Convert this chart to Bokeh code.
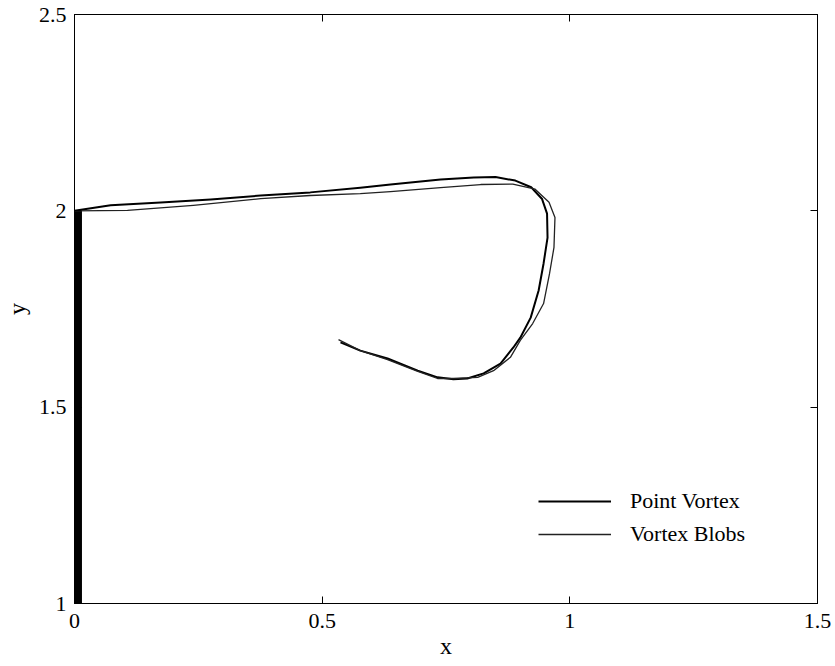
from bokeh.plotting import figure
from bokeh.models import Range1d, LinearAxis, FixedTicker, Legend, LegendItem
from bokeh.embed import file_html
from bokeh.resources import INLINE

# Vortex path computed with the point-vortex model
pv_x = [0.0, 0.073, 0.174, 0.275, 0.376, 0.476, 0.577, 0.638, 0.739, 0.806, 0.850,
        0.890, 0.922, 0.944, 0.954, 0.955, 0.947, 0.937, 0.921, 0.900, 0.886, 0.860,
        0.826, 0.793, 0.765, 0.733, 0.693, 0.632, 0.577, 0.537]
pv_y = [2.0, 2.014, 2.021, 2.029, 2.039, 2.047, 2.059, 2.067, 2.080, 2.085, 2.086,
        2.077, 2.060, 2.030, 1.993, 1.932, 1.866, 1.797, 1.728, 1.677, 1.652, 1.611,
        1.586, 1.573, 1.571, 1.576, 1.593, 1.624, 1.644, 1.665]

# Vortex path computed with the vortex-blob model
vb_x = [0.0, 0.107, 0.240, 0.376, 0.476, 0.577, 0.638, 0.739, 0.820, 0.885, 0.930,
        0.958, 0.970, 0.968, 0.959, 0.947, 0.925, 0.900, 0.880, 0.846, 0.814, 0.765,
        0.733, 0.693, 0.632, 0.577, 0.541, 0.533]
vb_y = [2.0, 2.001, 2.014, 2.031, 2.039, 2.044, 2.049, 2.059, 2.067, 2.068, 2.055,
        2.022, 1.983, 1.907, 1.840, 1.764, 1.713, 1.670, 1.627, 1.593, 1.576, 1.573,
        1.573, 1.591, 1.621, 1.644, 1.667, 1.672]

# Wall segment (dense row of image vortices along x = 0)
wall_x = [0.007, 0.007]
wall_y = [1.0, 2.0]

x_ticks = [0, 0.5, 1, 1.5]
y_ticks = [1, 1.5, 2, 2.5]
x_tick_labels = ["0", "0.5", "1", "1.5"]
y_tick_labels = ["1", "1.5", "2", "2.5"]

FONT = "Liberation Serif"

p = figure(width=835, height=666,
           x_range=Range1d(0, 1.5), y_range=Range1d(1, 2.5),
           output_backend="svg", toolbar_location=None,
           min_border_left=74, min_border_right=18,
           min_border_top=14, min_border_bottom=63)

p.grid.visible = False
p.outline_line_color = "black"
p.outline_line_width = 1
p.background_fill_color = "white"
p.border_fill_color = "white"

for ax, ticks, labels in ((p.xaxis[0], x_ticks, x_tick_labels),
                          (p.yaxis[0], y_ticks, y_tick_labels)):
    ax.ticker = FixedTicker(ticks=ticks)
    ax.major_label_overrides = dict(zip(ticks, labels))
    ax.minor_tick_line_color = None
    ax.major_tick_in = 7
    ax.major_tick_out = 0
    ax.axis_line_color = "black"
    ax.major_label_text_font = FONT
    ax.major_label_text_font_size = "22px"
    ax.major_label_text_color = "black"
    ax.axis_label_text_font = FONT
    ax.axis_label_text_font_size = "24px"
    ax.axis_label_text_font_style = "normal"
    ax.axis_label_text_color = "black"

p.xaxis[0].axis_label = "x"
p.yaxis[0].axis_label = "y"
p.xaxis[0].major_label_standoff = 10
p.yaxis[0].major_label_standoff = 8
p.xaxis[0].axis_label_standoff = 2
p.yaxis[0].axis_label_standoff = 6

# mirrored tick marks on the top and right edges (no labels)
for loc, ticks in (("above", x_ticks), ("right", y_ticks)):
    mirror = LinearAxis(ticker=FixedTicker(ticks=ticks))
    mirror.minor_tick_line_color = None
    mirror.major_tick_in = 7
    mirror.major_tick_out = 0
    mirror.major_label_overrides = {t: "" for t in ticks}
    mirror.axis_line_color = "black"
    p.add_layout(mirror, loc)

p.line(wall_x, wall_y, line_color="black", line_width=8)

r_pv = p.line(pv_x, pv_y, line_color="black", line_width=2, line_join="round")
r_vb = p.line(vb_x, vb_y, line_color="#222222", line_width=1.3, line_join="round")

legend = Legend(
    items=[LegendItem(label="Point Vortex", renderers=[r_pv]),
           LegendItem(label="Vortex Blobs", renderers=[r_vb])],
    location=(464, 56),
    border_line_color=None,
    background_fill_alpha=0,
    padding=0, margin=0, spacing=7,
    glyph_width=73, glyph_height=22, label_height=22,
    label_standoff=19,
    label_text_font=FONT, label_text_font_size="22px", label_text_color="black",
)
p.add_layout(legend)

open("out.html", "w").write(file_html(p, INLINE))
